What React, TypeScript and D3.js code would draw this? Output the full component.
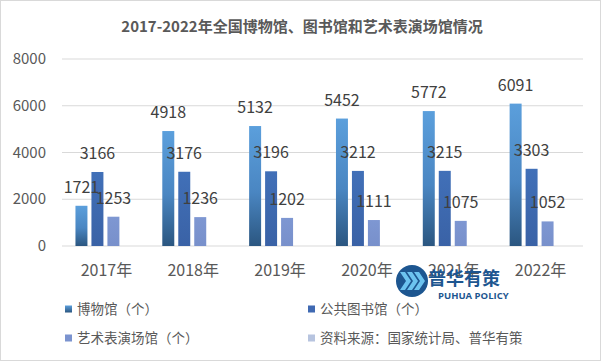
import React from "react";
import * as d3 from "d3";

const years = ["2017年", "2018年", "2019年", "2020年", "2021年", "2022年"];
const museums = [1721, 4918, 5132, 5452, 5772, 6091];
const libraries = [3166, 3176, 3196, 3212, 3215, 3303];
const theaters = [1253, 1236, 1202, 1111, 1075, 1052];
const yTicks = [0, 2000, 4000, 6000, 8000];
const seriesNames = ["博物馆（个）", "公共图书馆（个）", "艺术表演场馆（个）", "资料来源：国家统计局、普华有策"];
const title = "2017-2022年全国博物馆、图书馆和艺术表演场馆情况";

const W = 601;
const H = 361;
const FONT = "'Noto Sans CJK SC', 'Noto Sans', sans-serif";

export default function App() {
  const x = d3.scaleBand<string>().domain(years).range([62, 583]).paddingInner(0.31).paddingOuter(0.155);
  const xs = d3.scaleBand<number>().domain([0, 1, 2, 3]).range([0, x.bandwidth()]).paddingInner(0.25);
  const y = d3.scaleLinear().domain([0, 8000]).range([246, 59]);

  const series = [museums, libraries, theaters];
  const fills = ["url(#g1)", "url(#g2)", "url(#g3)"];
  const legendColors = ["url(#lg1)", "#3f69b2", "#7b93cf", "#b7c4df"];

  return (
    <svg width={W} height={H} style={{ position: "absolute", left: 0, top: 0, background: "#fff" }} fontFamily={FONT}>
      <defs>
        <linearGradient id="g1" x1="0" y1="0" x2="0" y2="1">
          <stop offset="0" stopColor="#5b9fdc" />
          <stop offset="0.55" stopColor="#4a86c2" />
          <stop offset="1" stopColor="#2b5680" />
        </linearGradient>
        <linearGradient id="lg1" x1="0" y1="0" x2="0" y2="1">
          <stop offset="0" stopColor="#5b9fdc" />
          <stop offset="1" stopColor="#2b5680" />
        </linearGradient>
        <linearGradient id="g2" x1="0" y1="0" x2="0" y2="1">
          <stop offset="0" stopColor="#4170b8" />
          <stop offset="1" stopColor="#3a62a6" />
        </linearGradient>
        <linearGradient id="g3" x1="0" y1="0" x2="0" y2="1">
          <stop offset="0" stopColor="#7e97d2" />
          <stop offset="1" stopColor="#7890cb" />
        </linearGradient>
      </defs>
      <rect x={0.5} y={0.5} width={W - 1} height={H - 1} fill="#fff" stroke="#d9d9d9" />
      <text x={302} y={32} textAnchor="middle" fontSize={15} fontWeight="bold" fill="#595959">{title}</text>

      {yTicks.map((t) => (
        <g key={t}>
          <line x1={62} x2={583} y1={y(t)} y2={y(t)} stroke="#d9d9d9" strokeWidth={1} />
          <text x={46} y={y(t) + 5} textAnchor="end" fontSize={15} fill="#595959">{t}</text>
        </g>
      ))}

      {years.map((yr, i) => (
        <g key={yr}>
          {series.map((s, k) => {
            const bx = (x(yr) as number) + (xs(k) as number);
            const v = s[i];
            return <rect key={k} x={bx} y={y(v)} width={xs.bandwidth()} height={y(0) - y(v)} fill={fills[k]} />;
          })}
          <text x={(x(yr) as number) + x.bandwidth() / 2 + 1} y={276} textAnchor="middle" fontSize={16} fill="#595959">{yr}</text>
        </g>
      ))}
      {years.map((yr, i) => (
        <g key={"l" + yr}>
          {series.map((s, k) => {
            const bx = (x(yr) as number) + (xs(k) as number);
            const v = s[i];
            return (
              <text key={k} x={bx + xs.bandwidth() / 2} y={y(v) - 13} textAnchor="middle" fontSize={16} fill="#404040">{v}</text>
            );
          })}
        </g>
      ))}

      {seriesNames.map((n, k) => {
        const lx = k % 2 === 0 ? 65 : 308;
        const ly = k < 2 ? 309 : 338;
        return (
          <g key={n}>
            <rect x={lx} y={ly - 3.5} width={7} height={7} fill={legendColors[k]} />
            <text x={lx + 12} y={ly + 5} fontSize={13.5} fill="#595959">{n}</text>
          </g>
        );
      })}

      <g>
        <circle cx={412} cy={281} r={16} fill="#1d5690" />
        {[0, 1, 2].map((j) => (
          <path key={j} d={`M${400 + j * 7},${272} l6,9 l-6,9 h5 l6,-9 l-6,-9 z`} fill="#6cc3ef" />
        ))}
        <text x={428} y={285} fontSize={18} fontWeight="bold" fill="#1d5690">普华有策</text>
        <text x={438} y={299} fontSize={9.5} fontWeight="bold" fill="#1d5690" fontFamily="'Open Sans', sans-serif">PUHUA POLICY</text>
      </g>
    </svg>
  );
}
